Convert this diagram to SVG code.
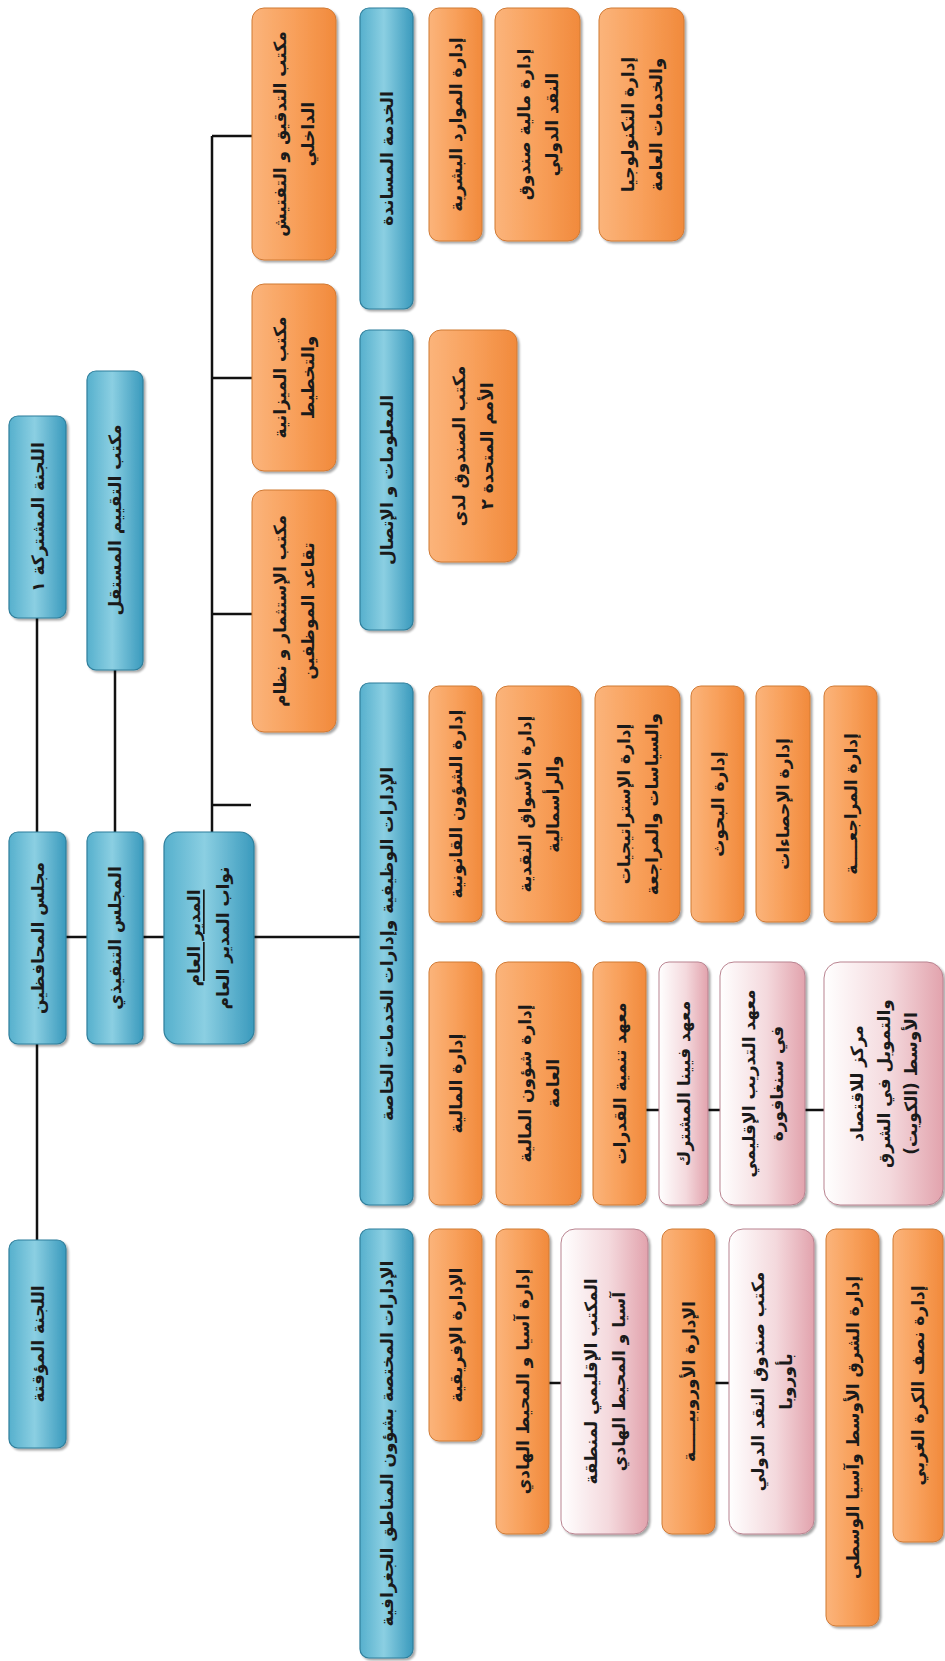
<svg xmlns="http://www.w3.org/2000/svg" width="945" height="1661" viewBox="0 0 945 1661">
<defs>
<linearGradient id="gb" x1="0" y1="0" x2="1" y2="0">
<stop offset="0" stop-color="#56b0cd"/><stop offset="0.45" stop-color="#8bcfe2"/><stop offset="1" stop-color="#3a9abd"/>
</linearGradient>
<linearGradient id="go" x1="0" y1="0" x2="1" y2="0">
<stop offset="0" stop-color="#fbb47b"/><stop offset="0.5" stop-color="#f8a05b"/><stop offset="1" stop-color="#f18a3c"/>
</linearGradient>
<linearGradient id="gp" x1="0" y1="0" x2="1" y2="0">
<stop offset="0" stop-color="#ffffff"/><stop offset="0.55" stop-color="#f4d9dd"/><stop offset="1" stop-color="#e2a3ad"/>
</linearGradient>
<filter id="sh" x="-10%" y="-5%" width="125%" height="115%">
<feDropShadow dx="2" dy="2" stdDeviation="1.2" flood-color="#000" flood-opacity="0.35"/>
</filter>
</defs>
<style>
.b{fill:url(#gb);stroke:#2f7f9c;stroke-width:1.2;filter:url(#sh)}
.o{fill:url(#go);stroke:#d07a35;stroke-width:1;filter:url(#sh)}
.p{fill:url(#gp);stroke:#b98390;stroke-width:1;filter:url(#sh)}
.t{font-family:"DejaVu Sans",sans-serif;font-weight:bold;font-size:17px;fill:#1a1a1a;text-anchor:middle;dominant-baseline:central}
.c{stroke:#111;stroke-width:2.5;fill:none}
</style>
<rect width="945" height="1661" fill="#ffffff"/>
<g id="connectors" class="c">
<path d="M37,618 V832 M37,1044 V1240 M115,670 V832 M66,937 H87 M143,937 H164 M254,937 H360"/>
<path d="M212,832 V136 M212,136 H252 M212,378 H252 M212,614 H252 M212,805 H251"/>
<path d="M646,1110 H659 M708,1110 H720 M805,1110 H824 M549,1383 H561 M715,1383 H729"/>
</g>
<g id="n-jc"><rect class="b" x="9" y="416" width="57" height="202" rx="9"/><text class="t" transform="translate(37.5,517) rotate(-90)">اللجنة المشتركة ١</text></g>
<g id="n-bog"><rect class="b" x="9" y="832" width="57" height="212" rx="9"/><text class="t" transform="translate(37.5,938) rotate(-90)">مجلس المحافظين</text></g>
<g id="n-ic"><rect class="b" x="9" y="1240" width="57" height="208" rx="9"/><text class="t" transform="translate(37.5,1344) rotate(-90)">اللجنة المؤقتة</text></g>
<g id="n-ieo"><rect class="b" x="87" y="371" width="56" height="299" rx="9"/><text class="t" transform="translate(115,520) rotate(-90)">مكتب التقييم المستقل</text></g>
<g id="n-eb"><rect class="b" x="87" y="832" width="56" height="212" rx="9"/><text class="t" transform="translate(115,938) rotate(-90)">المجلس التنفيذي</text></g>
<g id="n-md"><rect class="b" x="164" y="832" width="90" height="212" rx="14"/><text class="t" transform="translate(209,938) rotate(-90)"><tspan x="0" y="-15" text-decoration="underline">المدير العام</tspan><tspan x="0" y="14">نواب المدير العام</tspan></text></g>
<g id="n-oia"><rect class="o" x="252" y="8" width="84" height="252" rx="12"/><text class="t" transform="translate(294,134) rotate(-90)"><tspan x="0" y="-14">مكتب التدقيق و التفتيش</tspan><tspan x="0" y="14">الداخلي</tspan></text></g>
<g id="n-obp"><rect class="o" x="252" y="284" width="84" height="187" rx="12"/><text class="t" transform="translate(294,377.5) rotate(-90)"><tspan x="0" y="-14">مكتب الميزانية</tspan><tspan x="0" y="14">والتخطيط</tspan></text></g>
<g id="n-oio"><rect class="o" x="252" y="490" width="84" height="242" rx="12"/><text class="t" transform="translate(294,611) rotate(-90)"><tspan x="0" y="-14">مكتب الإستثمار و نظام</tspan><tspan x="0" y="14">تقاعد الموظفين</tspan></text></g>
<g id="n-sup"><rect class="b" x="360" y="8" width="53" height="301" rx="9"/><text class="t" transform="translate(386.5,158.5) rotate(-90)">الخدمة المساندة</text></g>
<g id="n-inf"><rect class="b" x="360" y="330" width="53" height="300" rx="9"/><text class="t" transform="translate(386.5,480) rotate(-90)">المعلومات و الإتصال</text></g>
<g id="n-func"><rect class="b" x="360" y="683" width="53" height="522" rx="9"/><text class="t" transform="translate(386.5,944) rotate(-90)">الإدارات الوظيفية وإدارات الخدمات الخاصة</text></g>
<g id="n-area"><rect class="b" x="360" y="1229" width="53" height="429" rx="9"/><text class="t" transform="translate(386.5,1443.5) rotate(-90)">الإدارات المختصة بشؤون المناطق الجغرافية</text></g>
<g id="n-hrd"><rect class="o" x="429" y="8" width="53" height="233" rx="10"/><text class="t" transform="translate(455.5,124.5) rotate(-90)">إدارة الموارد البشرية</text></g>
<g id="n-fin"><rect class="o" x="495" y="8" width="85" height="233" rx="12"/><text class="t" transform="translate(537.5,124.5) rotate(-90)"><tspan x="0" y="-14">إدارة مالية صندوق</tspan><tspan x="0" y="14">النقد الدولي</tspan></text></g>
<g id="n-tgs"><rect class="o" x="599" y="8" width="85" height="233" rx="12"/><text class="t" transform="translate(641.5,124.5) rotate(-90)"><tspan x="0" y="-14">إدارة التكنولوجيا</tspan><tspan x="0" y="14">والخدمات العامة</tspan></text></g>
<g id="n-un"><rect class="o" x="429" y="330" width="88" height="232" rx="12"/><text class="t" transform="translate(473,446) rotate(-90)"><tspan x="0" y="-14">مكتب الصندوق لدى</tspan><tspan x="0" y="14">الأمم المتحدة ٢</tspan></text></g>
<g id="n-leg"><rect class="o" x="429" y="686" width="53" height="236" rx="10"/><text class="t" transform="translate(455.5,804) rotate(-90)">إدارة الشؤون القانونية</text></g>
<g id="n-mcm"><rect class="o" x="496" y="686" width="85" height="236" rx="12"/><text class="t" transform="translate(538.5,804) rotate(-90)"><tspan x="0" y="-14">إدارة الأسواق النقدية</tspan><tspan x="0" y="14">والرأسمالية</tspan></text></g>
<g id="n-spr"><rect class="o" x="595" y="686" width="85" height="236" rx="12"/><text class="t" transform="translate(637.5,804) rotate(-90)"><tspan x="0" y="-14">إدارة الإستراتيجيات</tspan><tspan x="0" y="14">والسياسات والمراجعة</tspan></text></g>
<g id="n-res"><rect class="o" x="691" y="686" width="53" height="236" rx="10"/><text class="t" transform="translate(717.5,804) rotate(-90)">إدارة البحوث</text></g>
<g id="n-sta"><rect class="o" x="756" y="686" width="54" height="236" rx="10"/><text class="t" transform="translate(783,804) rotate(-90)">إدارة الإحصاءات</text></g>
<g id="n-aud"><rect class="o" x="824" y="686" width="53" height="236" rx="10"/><text class="t" transform="translate(850.5,804) rotate(-90)">إدارة المراجعــــة</text></g>
<g id="n-fnd"><rect class="o" x="429" y="962" width="53" height="243" rx="10"/><text class="t" transform="translate(455.5,1083.5) rotate(-90)">إدارة المالية</text></g>
<g id="n-fad"><rect class="o" x="496" y="962" width="85" height="243" rx="12"/><text class="t" transform="translate(538.5,1083.5) rotate(-90)"><tspan x="0" y="-14">إدارة شؤون المالية</tspan><tspan x="0" y="14">العامة</tspan></text></g>
<g id="n-icd"><rect class="o" x="593" y="962" width="53" height="243" rx="10"/><text class="t" transform="translate(619.5,1083.5) rotate(-90)">معهد تنمية القدرات</text></g>
<g id="n-jvi"><rect class="p" x="659" y="962" width="49" height="243" rx="10"/><text class="t" transform="translate(683.5,1083.5) rotate(-90)">معهد فيينا المشترك</text></g>
<g id="n-sti"><rect class="p" x="720" y="962" width="85" height="243" rx="14"/><text class="t" transform="translate(762.5,1083.5) rotate(-90)"><tspan x="0" y="-14">معهد التدريب الإقليمي</tspan><tspan x="0" y="14">في سنغافورة</tspan></text></g>
<g id="n-cef"><rect class="p" x="824" y="962" width="119" height="243" rx="16"/><text class="t" transform="translate(883.5,1083.5) rotate(-90)"><tspan x="0" y="-27">مركز للاقتصاد</tspan><tspan x="0" y="0">والتمويل في الشرق</tspan><tspan x="0" y="27">الأوسط (الكويت)</tspan></text></g>
<g id="n-afr"><rect class="o" x="429" y="1229" width="53" height="212" rx="10"/><text class="t" transform="translate(455.5,1335) rotate(-90)">الإدارة الإفريقية</text></g>
<g id="n-apd"><rect class="o" x="496" y="1229" width="53" height="305" rx="10"/><text class="t" transform="translate(522.5,1381.5) rotate(-90)">إدارة آسيا و المحيط الهادي</text></g>
<g id="n-rap"><rect class="p" x="561" y="1229" width="87" height="305" rx="14"/><text class="t" transform="translate(604.5,1381.5) rotate(-90)"><tspan x="0" y="-14">المكتب الإقليمي لمنطقة</tspan><tspan x="0" y="14">آسيا و المحيط الهادي</tspan></text></g>
<g id="n-eur"><rect class="o" x="662" y="1229" width="53" height="305" rx="10"/><text class="t" transform="translate(688.5,1381.5) rotate(-90)">الإدارة الأوروبيـــــة</text></g>
<g id="n-eo"><rect class="p" x="729" y="1229" width="85" height="305" rx="14"/><text class="t" transform="translate(771.5,1381.5) rotate(-90)"><tspan x="0" y="-14">مكتب صندوق النقد الدولي</tspan><tspan x="0" y="14">بأوروبا</tspan></text></g>
<g id="n-mcd"><rect class="o" x="826" y="1229" width="53" height="397" rx="10"/><text class="t" transform="translate(852.5,1427.5) rotate(-90)">إدارة الشرق الأوسط وآسيا الوسطى</text></g>
<g id="n-whd"><rect class="o" x="893" y="1229" width="50" height="313" rx="10"/><text class="t" transform="translate(918,1385.5) rotate(-90)">إدارة نصف الكرة الغربي</text></g>
</svg>
